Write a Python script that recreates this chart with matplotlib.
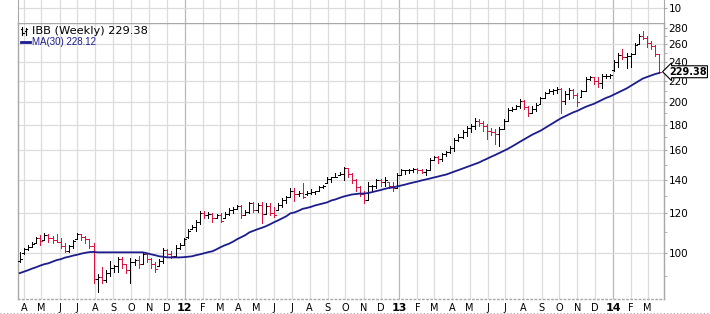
import numpy as np
import pandas as pd
import matplotlib
matplotlib.use('Agg')
import matplotlib.pyplot as plt
import matplotlib.dates as mdates
import matplotlib.transforms as mtransforms
from matplotlib.collections import LineCollection
from matplotlib.lines import Line2D

# weekly bars (week ending), IBB
dates = pd.date_range('2011-03-25', periods=157, freq='7D')

opens = [96.5, 100.0, 101.8, 103.0, 105.0, 107.1, 106.3, 108.6, 107.1, 106.1,
         105.1, 103.2, 100.9, 103.2, 106.8, 109.0, 107.6, 106.6, 103.2, 88.8,
         89.6, 88.4, 91.3, 93.4, 94.2, 97.3, 95.1, 92.5, 96.0, 96.9,
         95.1, 99.5, 97.3, 95.1, 94.5, 96.4, 101.4, 99.5, 98.6, 102.3,
         103.7, 107.5, 111.8, 112.6, 115.2, 120.0, 118.9, 119.4, 117.3, 118.9,
         117.5, 119.4, 121.6, 122.2, 123.9, 118.9, 120.5, 125.6, 121.6, 124.4,
         119.4, 123.9, 120.0, 121.8, 124.4, 127.3, 129.1, 133.2, 131.4, 132.0,
         131.0, 132.0, 132.6, 133.2, 135.1, 137.8, 140.7, 141.4, 142.9, 144.0,
         148.0, 144.0, 139.5, 135.1, 131.4, 127.3, 135.7, 135.7, 140.1, 138.2,
         138.6, 135.7, 134.5, 143.3, 146.0, 146.0, 146.6, 147.3, 146.0, 145.3,
         146.6, 153.4, 155.6, 154.1, 157.7, 159.1, 162.1, 168.1, 170.4, 174.3,
         177.5, 179.1, 183.3, 181.6, 179.1, 175.1, 174.3, 172.7, 176.7, 183.3,
         192.7, 193.6, 196.2, 200.8, 195.3, 190.1, 193.6, 198.3, 203.5, 208.2,
         210.1, 211.1, 212.0, 200.8, 207.3, 211.1, 206.3, 204.8, 210.1, 221.9,
         224.0, 219.9, 217.9, 225.0, 225.0, 231.0, 239.8, 247.6, 245.3, 246.4,
         248.7, 261.0, 269.9, 267.5, 261.5, 257.9, 248.7]

highs = [100.5, 102.3, 103.7, 105.1, 107.6, 108.6, 109.5, 109.0, 108.1, 109.0,
         107.1, 104.7, 103.7, 106.1, 109.5, 109.0, 108.1, 106.6, 104.7, 90.9,
         93.8, 92.5, 96.4, 94.7, 98.2, 98.2, 95.1, 97.7, 97.3, 98.6,
         100.5, 100.0, 97.7, 96.0, 97.3, 102.3, 101.8, 100.9, 103.7, 104.7,
         107.1, 111.6, 113.6, 116.2, 121.1, 121.1, 120.5, 120.0, 119.4, 120.0,
         120.5, 122.8, 123.3, 124.4, 124.4, 121.6, 126.2, 126.2, 125.6, 126.2,
         125.6, 125.6, 123.3, 125.6, 128.5, 130.2, 134.5, 134.5, 133.2, 137.6,
         133.2, 133.9, 133.2, 135.7, 136.9, 142.0, 142.0, 144.6, 145.3, 148.6,
         148.0, 144.6, 140.7, 135.7, 133.2, 138.2, 136.9, 140.7, 140.7, 141.4,
         138.8, 138.2, 144.6, 147.3, 146.6, 147.3, 148.0, 148.0, 147.3, 147.3,
         154.9, 156.3, 156.3, 158.4, 159.9, 163.5, 169.6, 172.7, 175.9, 179.1,
         180.8, 185.8, 185.0, 183.3, 180.8, 177.5, 176.7, 178.3, 185.0, 194.5,
         195.3, 197.1, 202.6, 201.7, 196.2, 196.2, 198.9, 204.4, 209.2, 212.0,
         212.0, 214.0, 213.0, 210.1, 213.0, 212.0, 208.2, 211.1, 224.0, 225.0,
         224.0, 224.0, 227.0, 227.0, 227.0, 242.0, 249.8, 254.4, 249.8, 249.8,
         261.5, 272.4, 276.2, 269.9, 263.9, 259.1, 248.7]

lows = [96.0, 99.5, 101.4, 102.8, 104.7, 103.7, 106.1, 105.1, 104.7, 105.1,
        102.3, 100.5, 100.5, 102.3, 106.6, 106.1, 104.7, 102.3, 87.2, 83.7,
        87.2, 87.6, 90.0, 91.7, 91.7, 93.4, 91.3, 87.2, 94.7, 93.4,
        95.1, 96.0, 93.4, 91.7, 94.2, 95.5, 98.2, 97.7, 98.2, 101.8,
        103.7, 107.1, 111.6, 110.5, 114.1, 117.3, 117.3, 115.2, 117.3, 115.2,
        117.3, 118.9, 120.0, 122.2, 117.3, 118.9, 120.0, 120.5, 120.5, 114.6,
        119.4, 118.9, 117.8, 121.6, 123.3, 125.6, 129.1, 126.7, 130.2, 128.5,
        130.8, 131.4, 131.4, 133.2, 134.5, 137.6, 138.8, 141.4, 142.7, 139.5,
        141.4, 137.6, 133.2, 130.2, 125.6, 127.3, 133.2, 134.5, 136.3, 136.3,
        134.5, 133.2, 134.5, 143.3, 144.0, 144.6, 145.3, 144.6, 144.6, 143.3,
        146.0, 153.4, 151.4, 152.8, 156.3, 158.4, 159.9, 167.3, 169.6, 171.2,
        174.3, 176.7, 179.1, 175.1, 168.8, 172.0, 165.0, 163.5, 176.7, 183.3,
        191.8, 193.6, 194.5, 193.6, 187.5, 190.1, 191.8, 198.0, 203.5, 208.2,
        207.3, 208.2, 190.1, 198.0, 202.6, 203.5, 196.2, 204.4, 210.1, 220.9,
        216.9, 214.0, 213.0, 222.9, 222.9, 230.2, 234.4, 243.1, 233.3, 234.4,
        248.7, 260.3, 266.3, 256.7, 254.4, 246.4, 228.1]

closes = [97.3, 101.8, 102.8, 104.2, 107.1, 105.6, 108.6, 107.1, 106.1, 105.1,
          103.2, 100.9, 103.2, 105.6, 109.0, 107.6, 106.6, 103.2, 88.8, 89.6,
          88.4, 91.3, 93.4, 94.2, 97.3, 95.1, 92.5, 96.0, 96.9, 95.1,
          99.5, 97.3, 95.1, 93.0, 96.4, 101.4, 99.5, 98.6, 102.3, 103.7,
          106.6, 110.5, 112.6, 115.2, 120.0, 118.9, 119.4, 117.3, 118.9, 115.7,
          119.4, 121.6, 122.2, 123.9, 118.9, 120.5, 125.6, 121.6, 124.4, 119.4,
          123.9, 120.0, 118.9, 124.4, 127.3, 129.1, 133.2, 131.4, 132.0, 129.6,
          132.0, 132.6, 133.2, 135.1, 136.3, 140.7, 141.4, 142.0, 144.0, 148.0,
          144.0, 139.5, 135.1, 131.4, 127.3, 135.7, 135.7, 140.1, 138.2, 140.1,
          135.7, 134.5, 143.3, 146.0, 146.0, 146.6, 147.3, 146.0, 145.3, 146.6,
          153.4, 155.6, 154.1, 157.7, 159.1, 162.1, 168.1, 170.4, 174.3, 177.5,
          179.1, 183.3, 181.6, 179.1, 175.1, 174.3, 172.7, 176.7, 183.3, 192.7,
          193.6, 196.2, 200.8, 195.3, 190.1, 193.6, 197.1, 203.5, 208.2, 210.1,
          211.1, 212.0, 200.8, 207.3, 211.1, 206.3, 199.8, 210.1, 221.9, 224.0,
          219.9, 217.9, 225.0, 225.0, 226.0, 239.8, 247.6, 245.3, 246.4, 248.7,
          259.1, 269.9, 267.5, 261.5, 257.9, 248.7, 229.38]

ma30 = [91.3, 91.9, 92.5, 93.2, 93.8, 94.5, 95.1, 95.5, 96.2, 96.9,
        97.3, 98.0, 98.4, 98.9, 99.3, 99.8, 100.2, 100.5, 100.6, 100.4,
        100.4, 100.4, 100.4, 100.4, 100.4, 100.4, 100.4, 100.4, 100.4, 100.4,
        100.4, 100.0, 99.5, 99.1, 98.6, 98.4, 98.1, 98.1, 98.1, 98.1,
        98.2, 98.4, 98.6, 99.1, 99.5, 100.0, 100.5, 100.9, 101.8, 102.8,
        103.7, 104.4, 105.4, 106.6, 107.6, 108.6, 110.0, 110.8, 111.6, 112.3,
        113.1, 114.1, 115.2, 116.2, 117.3, 118.4, 120.0, 120.5, 121.4, 122.5,
        123.0, 123.6, 124.4, 125.0, 125.6, 126.2, 127.3, 127.9, 128.8, 129.6,
        130.2, 130.8, 131.1, 131.4, 131.4, 131.7, 132.3, 132.9, 133.5, 134.2,
        134.8, 135.1, 135.7, 136.3, 136.9, 137.6, 138.2, 138.8, 139.5, 140.1,
        140.7, 141.4, 142.0, 142.7, 143.3, 144.3, 145.3, 146.3, 147.3, 148.3,
        149.3, 150.3, 151.4, 152.8, 154.1, 155.5, 156.8, 158.2, 159.6, 161.1,
        162.8, 164.6, 166.5, 168.3, 170.2, 172.0, 173.5, 175.1, 177.1, 179.1,
        181.2, 183.3, 185.4, 187.1, 188.8, 190.5, 191.8, 193.6, 195.3, 196.7,
        198.0, 199.8, 201.7, 203.5, 204.9, 206.8, 208.7, 210.6, 212.5, 214.9,
        217.4, 219.9, 222.4, 224.0, 225.5, 227.0, 228.12]

price_ticks = [100, 120, 140, 160, 180, 200, 220, 240, 260, 280]
minor_ticks = [90, 110, 130, 150, 170, 190, 210, 230, 250, 270]
month_letters = 'JFMAMJJASOND'

black = '#000000'
red = '#dc1440'
navy = '#1c1c8c'
grid_c = '#dcdcdc'
year_c = '#b8b8b8'
spine_c = '#a8a8a8'

W, H = 710, 314
fig = plt.figure(figsize=(W / 100, H / 100), dpi=100)


def fx(px):
    return px / W


def fy(py):
    return 1 - py / H


ax = fig.add_axes([fx(18), fy(299), (664 - 18) / W, (299 - 23.3) / H])
top = fig.add_axes([fx(18), fy(23.3), (664 - 18) / W, 23.3 / H])

x = mdates.date2num(dates)
xmin = mdates.date2num(pd.Timestamp('2011-03-22'))
xmax = mdates.date2num(pd.Timestamp('2014-03-29'))

# OHLC bars
d = 3.2
segs, cols = [], []
for i in range(len(x)):
    up = i == 0 or closes[i] >= closes[i - 1]
    c = black if up else red
    segs.append([(x[i], lows[i]), (x[i], highs[i])])
    segs.append([(x[i] - d, opens[i]), (x[i], opens[i])])
    segs.append([(x[i], closes[i]), (x[i] + d, closes[i])])
    cols += [c, c, c]
ax.add_collection(LineCollection(segs, colors=cols, linewidths=0.5,
                                 antialiaseds=False, zorder=3))

ax.plot(x, ma30, color=navy, lw=1.3, zorder=4)

ax.set_yscale('log')
ax.set_ylim(81.1, 286.3)
ax.set_xlim(xmin, xmax)

# month grid
months = pd.date_range('2011-04-01', '2014-03-01', freq='MS')
mx = mdates.date2num(months)
labels = [month_letters[m.month - 1] if m.month != 1 else m.strftime('%y') for m in months]
ax.set_xticks(mx)
tl = ax.set_xticklabels(labels, fontsize=7)
for t, m in zip(tl, months):
    if m.month == 1:
        t.set_fontweight('bold')
        t.set_fontsize(8)
ax.tick_params(axis='x', length=0, pad=3)
for m, v in zip(months, mx):
    c = year_c if m.month == 1 else grid_c
    ax.axvline(v, color=c, lw=0.9, zorder=1)
    top.axvline(v, color=c, lw=0.9, zorder=1)

ax.yaxis.tick_right()
ax.set_yticks(price_ticks)
ax.set_yticklabels([str(v) for v in price_ticks], fontsize=7.5)
ax.set_yticks(minor_ticks, minor=True)
ax.set_yticklabels([], minor=True)
ax.tick_params(axis='y', which='major', length=2.5, color=spine_c, pad=0.8)
ax.tick_params(axis='y', which='minor', length=1.8, color=spine_c)
for v in price_ticks[:-1]:
    ax.axhline(v, color=grid_c, lw=0.9, zorder=1)

for s in ax.spines.values():
    s.set_color(spine_c)
    s.set_linewidth(1.0)
ax.spines['bottom'].set_linestyle((0, (1, 2)))

# top panel (cut off)
top.set_xlim(xmin, xmax)
top.set_ylim(0, 14.75)
top.set_xticks([])
top.yaxis.tick_right()
top.set_yticks([10])
top.set_yticklabels(['10'], fontsize=7.5)
top.tick_params(axis='y', length=2.5, color=spine_c, pad=0.8)
top.axhline(10, color=grid_c, lw=0.9, zorder=1)
top.spines['top'].set_visible(False)
top.spines['bottom'].set_visible(False)
top.spines['left'].set_color(spine_c)
top.spines['right'].set_color(spine_c)

# legend
fig.add_artist(Line2D([fx(22), fx(22)], [fy(27), fy(35)], color=black, lw=0.8))
fig.add_artist(Line2D([fx(20.5), fx(22)], [fy(29), fy(29)], color=black, lw=0.8))
fig.add_artist(Line2D([fx(22), fx(23.5)], [fy(33), fy(33)], color=black, lw=0.8))
fig.add_artist(Line2D([fx(26), fx(26)], [fy(28), fy(35)], color=black, lw=0.8))
fig.add_artist(Line2D([fx(24.5), fx(26)], [fy(31), fy(31)], color=black, lw=0.8))
fig.add_artist(Line2D([fx(26), fx(27.5)], [fy(29), fy(29)], color=black, lw=0.8))
fig.text(fx(32), fy(31), 'IBB (Weekly) 229.38', fontsize=8.2, va='center', ha='left', color=black)
fig.add_artist(Line2D([fx(21), fx(30)], [fy(42), fy(42)], color=navy, lw=2))
fig.text(fx(31.5), fy(42), 'MA(30) 228.12', fontsize=7, va='center', ha='left', color=navy,
         family='Liberation Sans')

# last price marker
trans = mtransforms.blended_transform_factory(ax.transAxes, ax.transData)
ax.text(1.0075, closes[-1], f'{closes[-1]:.2f}', transform=trans, ha='left', va='center',
        fontsize=7, fontweight='bold', clip_on=False, zorder=10,
        bbox=dict(boxstyle='larrow,pad=0.1', fc='white', ec='black', lw=0.8))

fig.add_artist(Line2D([0, 1], [fy(313), fy(313)], color=spine_c, lw=0.8, ls=(0, (1, 2))))

fig.savefig('out.png', dpi=100)
